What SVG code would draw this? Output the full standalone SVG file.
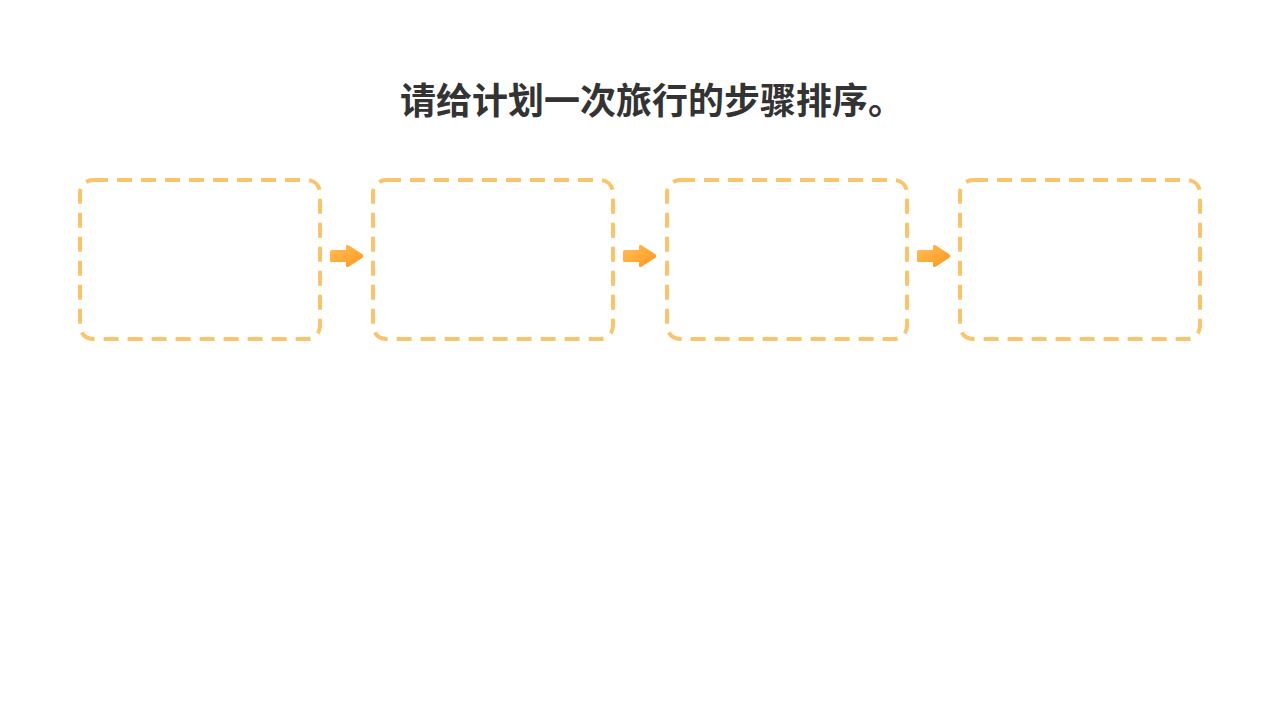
<svg xmlns="http://www.w3.org/2000/svg" width="1280" height="720" viewBox="0 0 1280 720">
<defs>
<linearGradient id="ag" x1="0" y1="0" x2="1" y2="1">
<stop offset="0" stop-color="#FFC05A"/>
<stop offset="1" stop-color="#FF961A"/>
</linearGradient>
<g id="arrow">
<path d="M1.5,-6 L16,-6 L16,-9.5 Q16,-12.5 19,-10.5 L32,-2 Q34.5,0 32,2 L19,10.5 Q16,12.5 16,9.5 L16,6 L1.5,6 Q0,6 0,4.5 L0,-4.5 Q0,-6 1.5,-6 Z" fill="url(#ag)"/>
</g>
</defs>
<style>
.box{fill:none;stroke:#F9C46B;stroke-width:4;stroke-dasharray:15 9;}
.title{font-family:"Noto Sans CJK SC","Noto Sans",sans-serif;font-weight:bold;font-size:36px;fill:#333333;}
</style>
<rect width="1280" height="720" fill="#ffffff"/>
<text class="title" x="652" y="114" text-anchor="middle">请给计划一次旅行的步骤排序。</text>
<g id="node1"><rect class="box" x="80" y="180" width="240" height="159" rx="13"/></g>
<g id="node2"><rect class="box" x="373" y="180" width="240" height="159" rx="13"/></g>
<g id="node3"><rect class="box" x="667" y="180" width="240" height="159" rx="13"/></g>
<g id="node4"><rect class="box" x="960" y="180" width="240" height="159" rx="13"/></g>
<g id="connectors">
<use href="#arrow" x="330" y="256"/>
<use href="#arrow" x="623" y="256"/>
<use href="#arrow" x="917" y="256"/>
</g>
</svg>
